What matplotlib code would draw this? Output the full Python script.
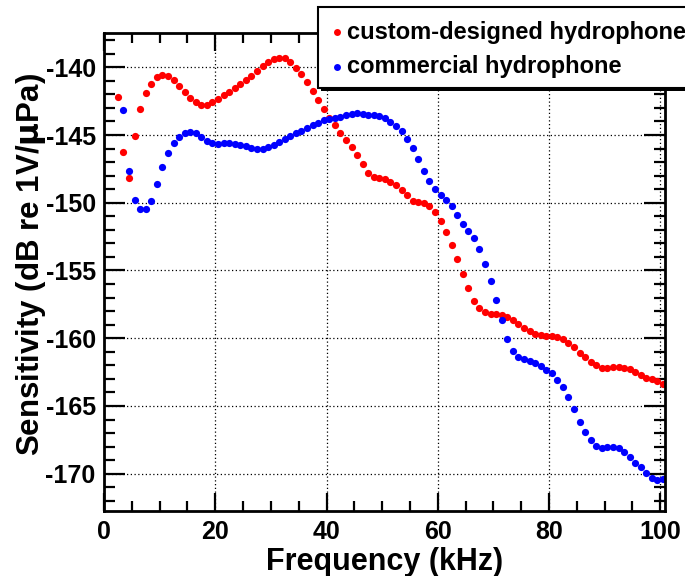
import numpy as np
import matplotlib
matplotlib.use('Agg')
import matplotlib.pyplot as plt
from matplotlib.patches import Rectangle

# frequencies in kHz (1 kHz steps)
freq_custom = np.arange(2.5, 101, 1.0)
freq_commercial = np.arange(3.5, 101, 1.0)

# sensitivity, dB re 1V/uPa
sens_custom = [
    -142.17, -146.23, -148.15, -145.05, -143.08, -141.92, -141.21, -140.72, -140.55, -140.67,
    -140.94, -141.36, -141.85, -142.24, -142.56, -142.81, -142.81, -142.59, -142.34, -142.07,
    -141.80, -141.53, -141.23, -140.94, -140.62, -140.27, -139.93, -139.59, -139.39, -139.31,
    -139.34, -139.63, -140.07, -140.52, -141.06, -141.73, -142.44, -143.08, -143.72, -144.28,
    -144.85, -145.37, -145.91, -146.50, -147.16, -147.81, -148.08, -148.18, -148.27, -148.49,
    -148.72, -149.04, -149.44, -149.86, -149.97, -150.03, -150.23, -150.70, -151.33, -152.14,
    -153.12, -154.18, -155.29, -156.32, -157.25, -157.78, -158.09, -158.20, -158.22, -158.27,
    -158.42, -158.67, -158.97, -159.23, -159.47, -159.66, -159.77, -159.81, -159.84, -159.90,
    -160.07, -160.34, -160.68, -161.06, -161.42, -161.75, -162.00, -162.17, -162.19, -162.12,
    -162.12, -162.17, -162.29, -162.46, -162.69, -162.91, -163.03, -163.18, -163.38,
]
sens_commercial = [
    -143.15, -147.66, -149.82, -150.49, -150.49, -149.85, -148.60, -147.36, -146.35, -145.61,
    -145.15, -144.87, -144.78, -144.87, -145.15, -145.42, -145.61, -145.69, -145.61, -145.61,
    -145.64, -145.71, -145.84, -145.96, -146.06, -146.06, -145.91, -145.74, -145.49, -145.28,
    -145.10, -144.86, -144.68, -144.50, -144.28, -144.09, -143.89, -143.82, -143.72, -143.65,
    -143.55, -143.45, -143.40, -143.47, -143.55, -143.55, -143.62, -143.77, -144.02, -144.34,
    -144.73, -145.27, -145.94, -146.77, -147.65, -148.42, -149.01, -149.43, -149.78, -150.25,
    -150.89, -151.58, -152.07, -152.60, -153.45, -154.51, -155.79, -157.17, -158.62, -160.03,
    -160.95, -161.37, -161.54, -161.67, -161.86, -162.08, -162.36, -162.60, -163.05, -163.59,
    -164.33, -165.24, -166.15, -166.89, -167.48, -167.95, -168.07, -168.03, -168.03, -168.10,
    -168.37, -168.77, -169.18, -169.51, -169.92, -170.29, -170.44, -170.39,
]

plt.rcParams['font.family'] = ['Liberation Sans', 'DejaVu Sans']
plt.rcParams['font.weight'] = 'bold'
plt.rcParams['axes.unicode_minus'] = False

fig = plt.figure(figsize=(6.85, 5.76), dpi=100)
W, H = 685.0, 576.0
ax = fig.add_axes([104 / W, 1 - 510.7 / H, (665 - 104) / W, (510.7 - 33) / H])

ax.plot(freq_custom, sens_custom, 'o', color='#ff0000', markersize=5.2, markeredgewidth=0)
ax.plot(freq_commercial, sens_commercial, 'o', color='#0000ff', markersize=5.2, markeredgewidth=0)

ax.set_xlim(0, 100.85)
ax.set_ylim(-172.73, -137.47)
ax.set_xticks(np.arange(0, 101, 20))
ax.set_xticks(np.arange(0, 101, 5), minor=True)
ax.set_yticks(np.arange(-170, -139, 5))
ax.set_yticks(np.arange(-172, -137, 1), minor=True)
ax.grid(True, which='major', color='black', linestyle=(0, (1, 2)), linewidth=0.9)

ax.tick_params(which='both', direction='in', top=True, right=True, width=1.6,
               labelsize=18, colors='black')
ax.tick_params(axis='y', which='major', length=15, pad=6)
ax.tick_params(axis='y', which='minor', length=8)
ax.tick_params(axis='x', which='major', length=13, pad=7)
ax.tick_params(axis='x', which='minor', length=7)
for lab in ax.get_xticklabels() + ax.get_yticklabels():
    lab.set_fontweight('bold')
for s in ax.spines.values():
    s.set_linewidth(2)

fig.text(385 / W, 1 - 570 / H, 'Frequency (kHz)', ha='center', va='baseline',
         fontsize=22, fontweight='bold')
fig.text(31 / W, 1 - 265 / H, r'Sensitivity (dB re 1V/$\mathbf{\mu}$Pa)', ha='center', va='center',
         rotation=90, fontsize=22.5, fontweight='bold')

# legend box with shadow, ROOT style
fig.patches.append(Rectangle((321 / W, 1 - 91 / H), 370 / W, 83 / H, transform=fig.transFigure,
                             facecolor='black', edgecolor='none', zorder=5))
fig.patches.append(Rectangle((318 / W, 1 - 88 / H), 370 / W, 81 / H, transform=fig.transFigure,
                             facecolor='white', edgecolor='black', linewidth=1.5, zorder=6))
fig.text(347 / W, 1 - 32 / H, 'custom-designed hydrophone', ha='left', va='center',
         fontsize=17, fontweight='bold', zorder=7)
fig.text(347 / W, 1 - 67 / H, 'commercial hydrophone', ha='left', va='center',
         fontsize=17, fontweight='bold', zorder=7)
fig.lines.append(plt.Line2D([337 / W], [1 - 32 / H], transform=fig.transFigure, marker='o',
                            color='#ff0000', markersize=5, markeredgewidth=0, zorder=7))
fig.lines.append(plt.Line2D([337 / W], [1 - 67 / H], transform=fig.transFigure, marker='o',
                            color='#0000ff', markersize=5, markeredgewidth=0, zorder=7))

plt.savefig('out.png', dpi=100)
plt.close()
